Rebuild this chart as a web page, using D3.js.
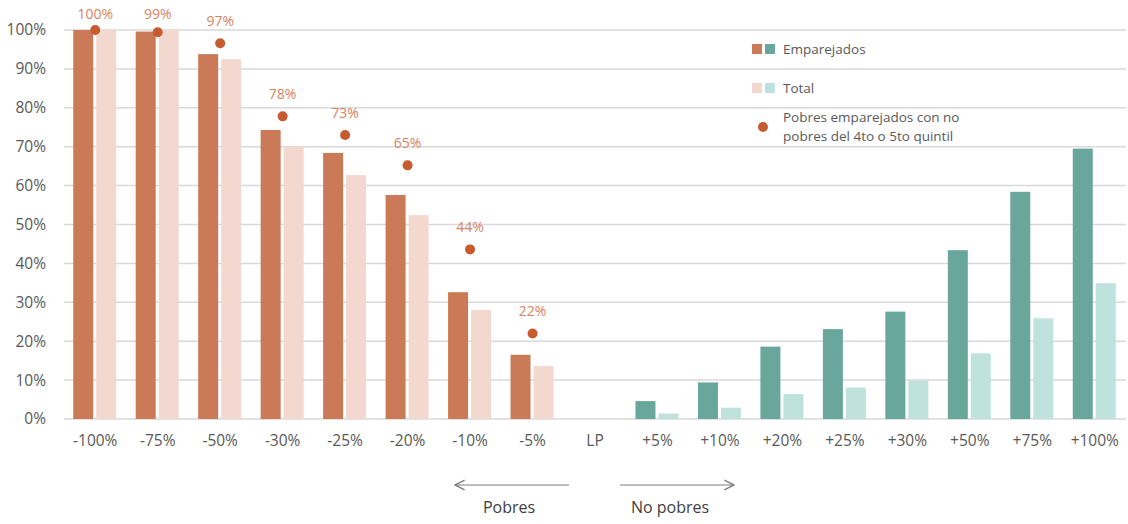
<!DOCTYPE html>
<html>
<head>
<meta charset="utf-8">
<script src="https://cdn.jsdelivr.net/npm/d3@7"></script>
<style>
  body { margin: 0; background: #fff; }
  svg text { font-family: "Open Sans", "Noto Sans", sans-serif; }
</style>
</head>
<body>
<div id="chart"></div>
<script>
// categories along the income line (LP = linea de pobreza)
const categories = ["-100%", "-75%", "-50%", "-30%", "-25%", "-20%", "-10%", "-5%", "LP",
                    "+5%", "+10%", "+20%", "+25%", "+30%", "+50%", "+75%", "+100%"];
// share, %, null where there is no bar
const emparejados = [100, 99.6, 93.8, 74.3, 68.4, 57.6, 32.6, 16.5, null,
                     4.6, 9.4, 18.6, 23.1, 27.6, 43.4, 58.4, 69.5];
const total = [100, 100, 92.5, 70.1, 62.7, 52.4, 28.0, 13.6, null,
               1.4, 2.9, 6.4, 8.1, 9.9, 16.9, 25.9, 34.9];
// pobres emparejados con no pobres del 4to o 5to quintil
const dotCats = ["-100%", "-75%", "-50%", "-30%", "-25%", "-20%", "-10%", "-5%"];
const dotVals = [100, 99.4, 96.6, 77.8, 73.0, 65.2, 43.6, 22.0];
const yTicks = [0, 10, 20, 30, 40, 50, 60, 70, 80, 90, 100];

const width = 1128, height = 524;
const margin = {top: 30, right: 2, bottom: 105, left: 64};

const svg = d3.select("#chart").append("svg")
    .attr("width", width)
    .attr("height", height);

const x = d3.scaleBand()
    .domain(categories)
    .range([margin.left, width - margin.right]);

const y = d3.scaleLinear()
    .domain([0, 100])
    .range([height - margin.bottom, margin.top]);

const col = {
    poorE: "#cb7a58", poorT: "#f3d8cf",
    richE: "#69a69b", richT: "#c0e2dc",
    dot: "#c65b2f", dotLabel: "#d9835f",
    grid: "#d9d9d9", text: "#595959"
};

const isPoor = function (c) { return c.charAt(0) === "-"; };

// grid
svg.append("g")
    .selectAll("line")
    .data(yTicks)
    .join("line")
    .attr("x1", margin.left)
    .attr("x2", width - margin.right)
    .attr("y1", d => y(d))
    .attr("y2", d => y(d))
    .attr("stroke", col.grid)
    .attr("stroke-width", 1.5);

// y axis labels
const yAxis = svg.append("g")
    .attr("transform", `translate(${margin.left},0)`)
    .call(d3.axisLeft(y).tickValues(yTicks).tickFormat(d => d + "%").tickSize(0).tickPadding(18));
yAxis.select(".domain").remove();
yAxis.selectAll("text")
    .attr("fill", col.text)
    .style("font-size", "15.5px");

// x axis labels
const xAxis = svg.append("g")
    .attr("transform", `translate(0,${y(0)})`)
    .call(d3.axisBottom(x).tickSize(0).tickPadding(16));
xAxis.select(".domain").remove();
xAxis.selectAll("text")
    .attr("fill", col.text)
    .style("font-size", "15.5px");

// bars
const barW = 20, gap = 3;
const rows = categories.map((c, i) => ({cat: c, e: emparejados[i], t: total[i]}))
    .filter(d => d.e !== null);

svg.append("g")
    .selectAll("rect")
    .data(rows)
    .join("rect")
    .attr("x", d => x(d.cat) + x.bandwidth() / 2 - barW - gap / 2 - 0.5)
    .attr("y", d => y(d.e))
    .attr("width", barW)
    .attr("height", d => y(0) - y(d.e))
    .attr("fill", d => isPoor(d.cat) ? col.poorE : col.richE);

svg.append("g")
    .selectAll("rect")
    .data(rows)
    .join("rect")
    .attr("x", d => x(d.cat) + x.bandwidth() / 2 + gap / 2 - 0.5)
    .attr("y", d => y(d.t))
    .attr("width", barW)
    .attr("height", d => y(0) - y(d.t))
    .attr("fill", d => isPoor(d.cat) ? col.poorT : col.richT);

// dots + labels
const dots = dotCats.map((c, i) => ({cat: c, v: dotVals[i]}));
svg.append("g")
    .selectAll("circle")
    .data(dots)
    .join("circle")
    .attr("cx", d => x(d.cat) + x.bandwidth() / 2)
    .attr("cy", d => y(d.v))
    .attr("r", 5)
    .attr("fill", col.dot);

svg.append("g")
    .selectAll("text")
    .data(dots)
    .join("text")
    .attr("x", d => x(d.cat) + x.bandwidth() / 2)
    .attr("y", d => Math.max(y(d.v) - 22, 14))
    .attr("dy", "0.35em")
    .attr("text-anchor", "middle")
    .attr("fill", col.dotLabel)
    .style("font-size", "14px")
    .text(d => d3.format(".0f")(d.v) + "%");

// legend
const lg = svg.append("g").attr("transform", "translate(752,0)");
lg.append("rect").attr("x", 0).attr("y", 44).attr("width", 10).attr("height", 10).attr("fill", col.poorE);
lg.append("rect").attr("x", 13).attr("y", 44).attr("width", 10).attr("height", 10).attr("fill", col.richE);
lg.append("rect").attr("x", 0).attr("y", 83).attr("width", 10).attr("height", 10).attr("fill", col.poorT);
lg.append("rect").attr("x", 13).attr("y", 83).attr("width", 10).attr("height", 10).attr("fill", col.richT);
lg.append("circle").attr("cx", 11).attr("cy", 127).attr("r", 5).attr("fill", col.dot);

const legText = [["Emparejados", 49], ["Total", 88],
                 ["Pobres emparejados con no", 117], ["pobres del 4to o 5to quintil", 136]];
lg.selectAll("text.leg")
    .data(legText)
    .join("text")
    .attr("class", "leg")
    .attr("x", 31)
    .attr("y", d => d[1])
    .attr("dy", "0.35em")
    .attr("fill", col.text)
    .style("font-size", "13.5px")
    .text(d => d[0]);

// arrows: Pobres / No pobres
const defs = svg.append("defs");
defs.append("marker")
    .attr("id", "head")
    .attr("viewBox", "0 0 10 10")
    .attr("refX", 9).attr("refY", 5)
    .attr("markerWidth", 12).attr("markerHeight", 12)
    .attr("markerUnits", "userSpaceOnUse")
    .attr("orient", "auto-start-reverse")
    .append("path")
    .attr("d", "M1,1 L9,5 L1,9")
    .attr("fill", "none")
    .attr("stroke", "#7f7f7f")
    .attr("stroke-width", 1.2);

svg.append("line")
    .attr("x1", 455).attr("x2", 569).attr("y1", 485).attr("y2", 485)
    .attr("stroke", "#7f7f7f").attr("stroke-width", 1.2)
    .attr("marker-start", "url(#head)");
svg.append("line")
    .attr("x1", 620).attr("x2", 734).attr("y1", 485).attr("y2", 485)
    .attr("stroke", "#7f7f7f").attr("stroke-width", 1.2)
    .attr("marker-end", "url(#head)");

svg.append("text").attr("x", 509).attr("y", 507).attr("dy", "0.35em")
    .attr("text-anchor", "middle").attr("fill", "#404040").style("font-size", "16px").text("Pobres");
svg.append("text").attr("x", 670).attr("y", 507).attr("dy", "0.35em")
    .attr("text-anchor", "middle").attr("fill", "#404040").style("font-size", "16px").text("No pobres");
</script>
</body>
</html>
